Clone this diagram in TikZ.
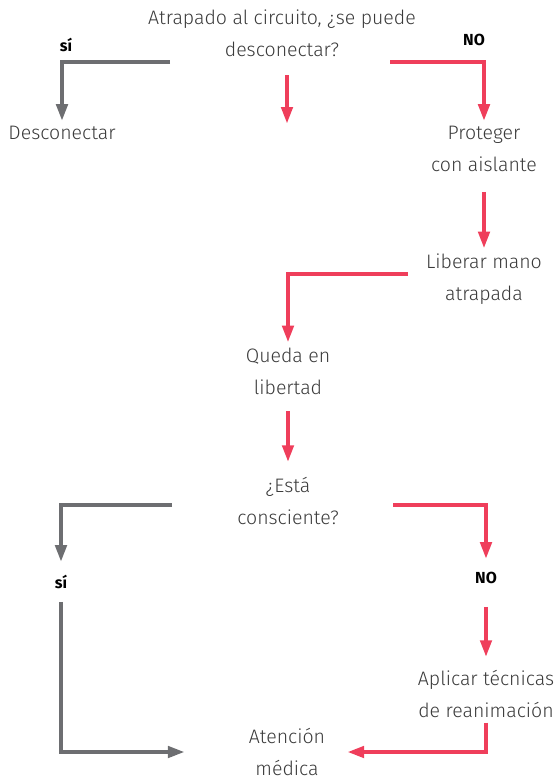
\documentclass[tikz,border=0pt]{standalone}
\usepackage{fontspec}
\setmainfont{Fira Sans}[UprightFont=* Light,BoldFont=* Bold]
\usepackage{tikz}
\usetikzlibrary{arrows.meta,positioning}
\definecolor{linegray}{HTML}{6D6E71}
\definecolor{linered}{HTML}{EF3E5B}
\definecolor{txtgray}{HTML}{3A3A3A}

\begin{document}
\begin{tikzpicture}[x=1pt,y=-1pt,>={Triangle[length=17pt,width=11pt]},
  txt/.style={align=center,inner sep=0pt,outer sep=5pt,text=txtgray,
              font=\fontsize{19.5}{32}\selectfont},
  ans/.style={inner sep=0pt,outer sep=13pt,text=black,
              font=\fontsize{16}{18}\selectfont\bfseries},
  gline/.style={draw=linegray,line width=4.5pt,->},
  rline/.style={draw=linered,line width=4.5pt,->}]
\useasboundingbox (0,0) rectangle (555,780);
\node[txt] (atr) at (282,33) {Atrapado al circuito, ¿se puede\\desconectar?};
\node[txt] (desc) at (62,133) {Desconectar};
\node[txt] (prot) at (484,149) {Proteger\\con aislante};
\node[txt] (lib) at (484,279) {Liberar mano\\atrapada};
\node[txt] (qued) at (288,371) {Queda en\\libertad};
\node[txt] (esta) at (288,501) {¿Está\\consciente?};
\node[txt] (apl) at (486,694) {Aplicar técnicas\\de reanimación};
\node[txt,outer xsep=22pt] (aten) at (287,752) {Atención\\médica};
\node[ans] (si1) at (66,45) {sí};
\node[ans] (no1) at (474,40) {NO};
\node[ans] (si2) at (61,582) {sí};
\node[ans] (no2) at (486,578) {NO};
% loose ends of the branch lines
\coordinate (a1) at (170,62);
\coordinate (b1) at (390,62);
\coordinate (m1) at (287,75);
\coordinate (m2) at (287,124);
\coordinate (c1) at (408,274);
\coordinate (d1) at (172,505);
\coordinate (e1) at (393,505);
\draw[gline] (a1) -| (desc.north);
\draw[rline] (m1) -- (m2);
\draw[rline] (b1) -| (prot.north);
\draw[rline,shorten <=15pt] (prot.south) -- (lib.north);
\draw[rline] (c1) -| (qued.north);
\draw[rline,shorten <=12pt,shorten >=10pt] (qued.south) -- (esta.north);
\draw[gline] (d1) -| (si2.north);
\draw[rline] (e1) -| (no2.north);
\draw[rline,shorten <=10pt,shorten >=8pt] (no2.south) -- (apl.north);
\draw[gline,shorten >=42pt] (si2.south) |- (aten.west);
\draw[rline] (apl.south) |- (aten.east);
\end{tikzpicture}
\end{document}
